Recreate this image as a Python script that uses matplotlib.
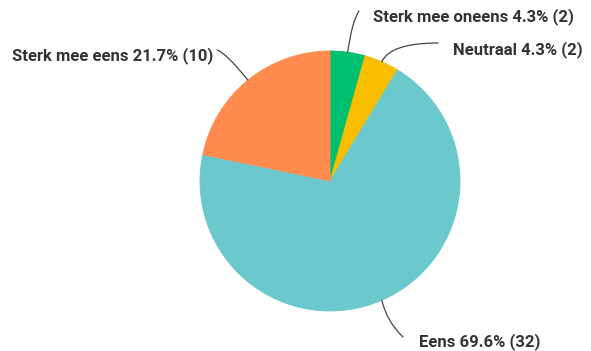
import numpy as np
import matplotlib
matplotlib.use("Agg")
import matplotlib.pyplot as plt

# Survey answers, clockwise from 12 o'clock
labels = ["Sterk mee oneens", "Neutraal", "Eens", "Sterk mee eens"]
counts = [2, 2, 32, 10]
colors = ["#00BF6F", "#F9BE00", "#6BC8CD", "#FF8B4F"]

W, H = 591, 351
fig = plt.figure(figsize=(W / 100, H / 100), dpi=100)
ax = fig.add_axes([0, 0, 1, 1])

cx, cy, r = 330, H - 181, 130
wedges, _ = ax.pie(counts, colors=colors, startangle=90, counterclock=False,
                   center=(cx, cy), radius=r)
for w, col in zip(wedges, colors):
    w.set_edgecolor(col)
    w.set_linewidth(0.6)
ax.set_xlim(0, W)
ax.set_ylim(0, H)
ax.set_aspect("equal", adjustable="box")
ax.axis("off")

total = sum(counts)
pcts = [100 * c / total for c in counts]
cum = np.cumsum([0] + counts)
mid_angles = [90 - 360 * (cum[i] + counts[i] / 2) / total for i in range(len(counts))]

font = dict(family=["Roboto", "DejaVu Sans"],
            fontsize=12, fontweight="bold", color="#333333")

# label anchor (x, y from top), alignment, leader end, connection style
layout = [
    ((373, 17), "left", (359, 11), "angle3,angleA=55,angleB=82"),
    ((453, 50), "left", (438, 43), "angle3,angleA=0,angleB=66"),
    ((419, 342), "left", (403, 337), "arc3,rad=-0.15"),
    ((213, 56), "right", (217, 50), "angle3,angleA=-15,angleB=129"),
]

for lab, c, p, ang, (tpos, ha, lend, cs) in zip(labels, counts, pcts, mid_angles, layout):
    a = np.deg2rad(ang)
    edge = (cx + r * np.cos(a), cy + r * np.sin(a))
    ax.annotate("", xy=edge, xytext=(lend[0], H - lend[1]),
                arrowprops=dict(arrowstyle="-", color="#444444", lw=0.9,
                                connectionstyle=cs, shrinkA=0, shrinkB=0))
    ax.text(tpos[0], H - tpos[1], f"{lab} {p:.1f}% ({c})", ha=ha, va="center", **font)

fig.savefig("out.png", dpi=100)
